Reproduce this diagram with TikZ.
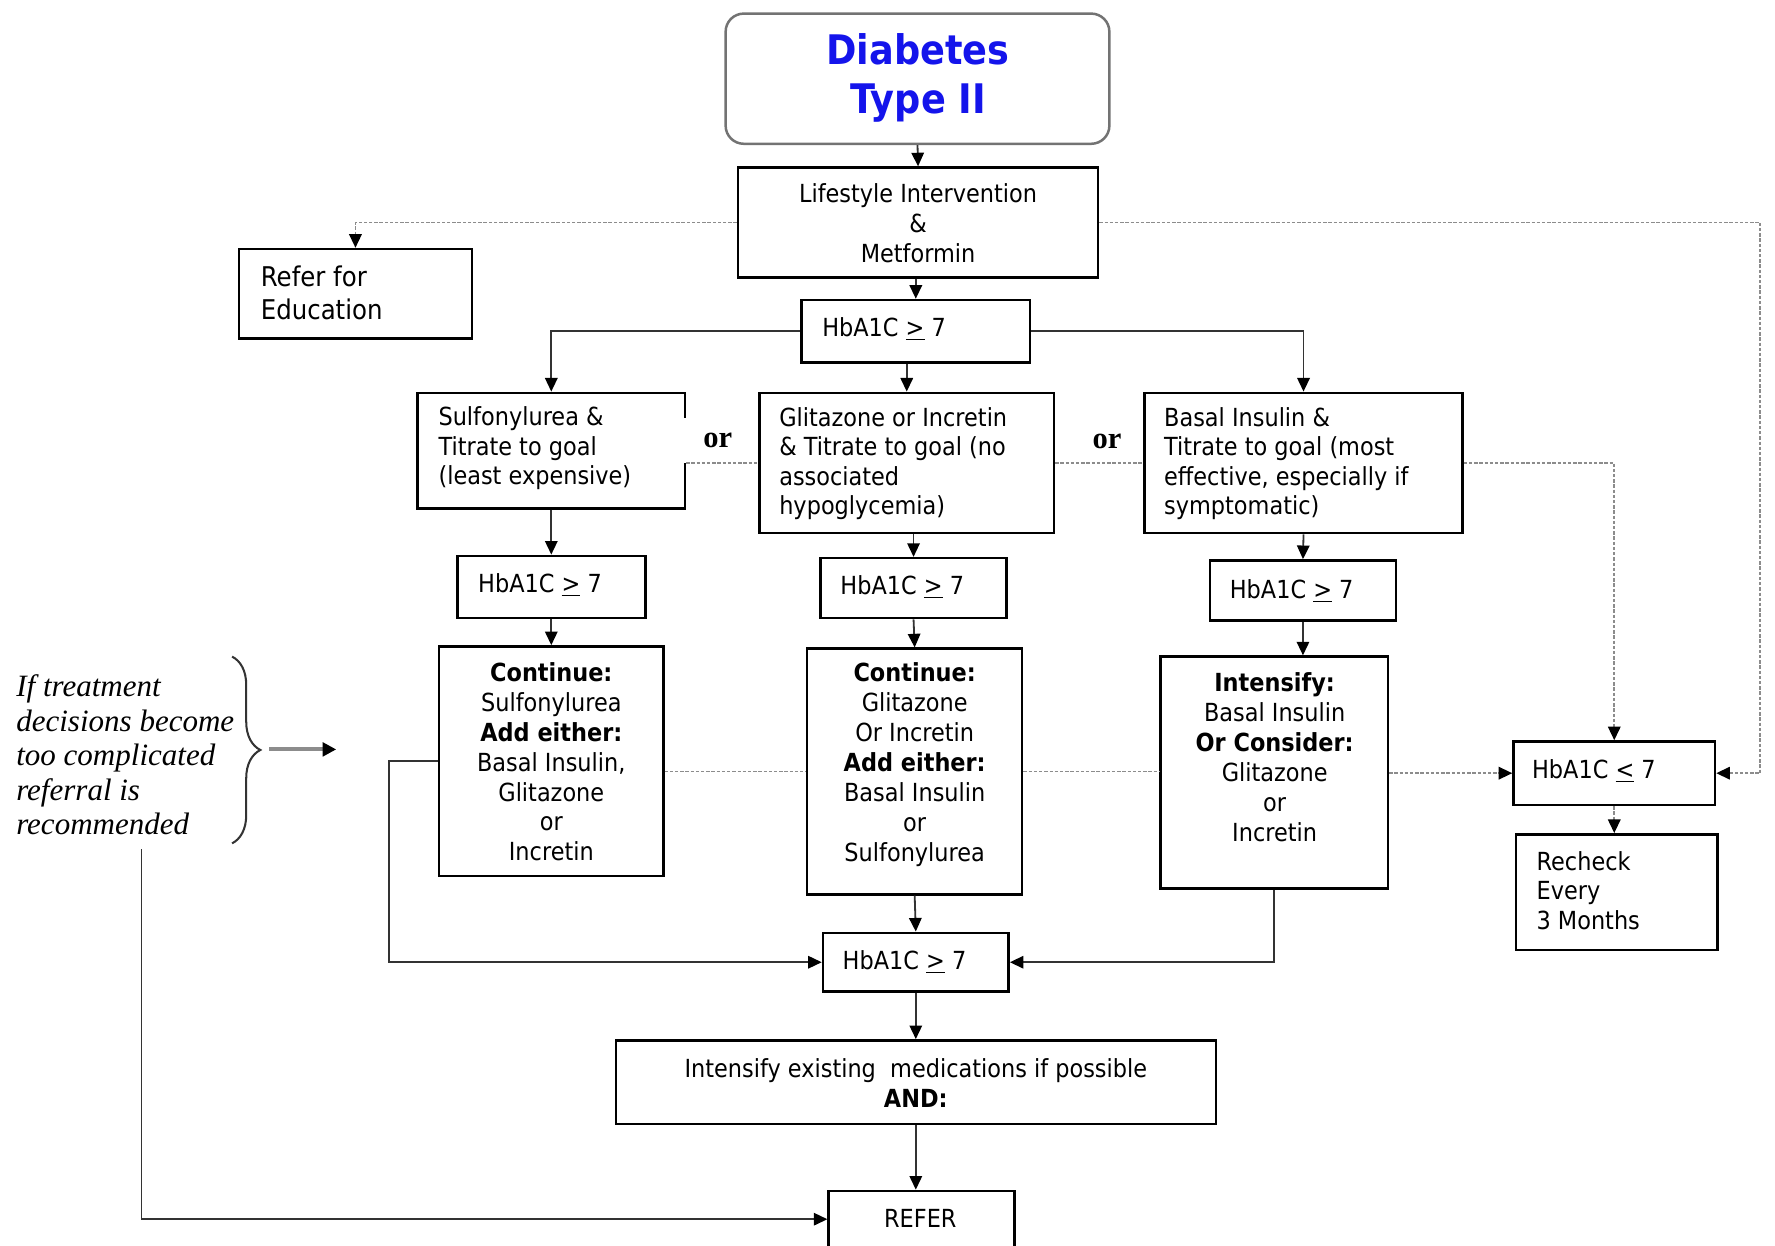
\documentclass[tikz,border=0pt]{standalone}
\usepackage{fontspec}
\setmainfont{DejaVu Sans}[FakeStretch=0.9]
\newfontfamily\timesfont{Liberation Serif}
\usetikzlibrary{arrows.meta,fit,decorations.pathreplacing}
\definecolor{titleblue}{RGB}{20,20,235}
\begin{document}
\begin{tikzpicture}[x=0.5pt,y=-0.5pt,
  box/.style={draw=black,line width=1.1pt,inner sep=0pt},
  txt/.style={inner sep=0pt,font=\fontsize{11}{13}\selectfont,align=left,anchor=west},
  ctxt/.style={inner sep=0pt,font=\fontsize{11}{13.2}\selectfont,align=center},
  conn/.style={draw=black!80,line width=0.8pt},
  arr/.style={conn,-{Triangle[length=6pt,width=5.5pt,color=black]}},
  dotl/.style={draw=black!45,line width=0.8pt,dash pattern=on 1.5pt off 0.8pt},
  darr/.style={dotl,-{Triangle[length=6pt,width=5.5pt,color=black]}},
  orlab/.style={inner sep=0pt,font=\timesfont\bfseries\fontsize{13.5}{15}\selectfont}]
\useasboundingbox (0,0) rectangle (1568,1100);
\clip (0,0) rectangle (1568,1100);
% boxes
\node[box,draw=black!55,line width=1.1pt,rounded corners=8pt,fit={(641,12) (980,127)}] (diab) {};
\node[box,fit={(652,148) (970,245)}] (life) {};
\node[box,fit={(708,265) (910,320)}] (h1) {};
\node[box,fit={(211,220) (417,299)}] (red) {};
\node[box,fit={(369,347) (605,449)}] (s1) {};
\node[box,fit={(671,347) (931,471)}] (g1) {};
\node[box,fit={(1011,347) (1292,471)}] (b1) {};
\node[box,fit={(404,491) (570,546)}] (s2) {};
\node[box,fit={(725,493) (889,546)}] (g2) {};
\node[box,fit={(1069,495) (1233,548)}] (b2) {};
\node[box,fit={(388,571) (586,774)}] (c1) {};
\node[box,fit={(713,573) (903,790)}] (c2) {};
\node[box,fit={(1025,580) (1226,785)}] (intf) {};
\node[box,fit={(1337,655) (1515,711)}] (lt) {};
\node[box,fit={(1339,737) (1517,839)}] (rck) {};
\node[box,fit={(727,824) (891,876)}] (h3) {};
\node[box,fit={(544,919) (1074,993)}] (ie) {};
\node[box,fit={(732,1052) (896,1102)}] (refer) {};
% texts
\node[ctxt,font=\bfseries\fontsize{18}{21.5}\selectfont,text=titleblue] (title) at (811,69) {Diabetes\\Type II};
\node[ctxt] (lifet) at (811,197) {Lifestyle Intervention\\\&\\Metformin};
\node[txt] (h1t) at (726,291) {HbA1C \underline{>} 7};
\node[txt,font=\fontsize{12}{14.5}\selectfont] (redt) at (230,258.5) {Refer for\\Education};
\node[txt] (s1t) at (387,396) {Sulfonylurea \&\\Titrate to goal\\(least expensive)};
\node[txt] (g1t) at (688,409.5) {Glitazone or Incretin\\\& Titrate to goal (no\\associated\\hypoglycemia)};
\node[txt] (b1t) at (1028,409.5) {Basal Insulin \&\\Titrate to goal (most\\effective, especially if\\symptomatic)};
\node[txt] (s2t) at (422,517) {HbA1C \underline{>} 7};
\node[txt] (g2t) at (742,519) {HbA1C \underline{>} 7};
\node[txt] (b2t) at (1086,522) {HbA1C \underline{>} 7};
\node[ctxt] (c1t) at (487,673) {\textbf{Continue:}\\Sulfonylurea\\\textbf{Add either:}\\Basal Insulin,\\Glitazone\\or\\Incretin};
\node[ctxt] (c2t) at (808,675.5) {\textbf{Continue:}\\Glitazone\\Or Incretin\\\textbf{Add either:}\\Basal Insulin\\or\\Sulfonylurea};
\node[ctxt] (intft) at (1126,669) {\textbf{Intensify:}\\Basal Insulin\\\textbf{Or Consider:}\\Glitazone\\or\\Incretin};
\node[txt] (h3t) at (744,850) {HbA1C \underline{>} 7};
\node[txt] (ltt) at (1353,681) {HbA1C \underline{<} 7};
\node[txt] (rckt) at (1357,786.5) {Recheck\\Every\\3 Months};
\node[ctxt] (iet) at (809,956.5) {Intensify existing\ \ medications if possible\\\textbf{AND:}};
\node[ctxt] (refert) at (813,1076) {REFER};
\node[inner sep=0pt,anchor=west,align=left,font=\timesfont\itshape\fontsize{13.7}{15.25}\selectfont] (note) at (14,667) {If treatment\\decisions become\\too complicated\\referral is\\recommended};
% or labels
\node[orlab,fill=white,minimum width=32pt,minimum height=20pt] (or1) at (634,389) {or};
\node[orlab] (or2) at (978,390) {or};
% brace
\coordinate (brt) at (205,580);
\coordinate (brb) at (205,745);
\draw[decorate,decoration={brace,amplitude=12.5pt},black!80,line width=0.9pt] (brt) -- (brb);
\coordinate (ba1) at (238,662);
\coordinate (ba2) at (297,662);
\draw[black!45,line width=1.8pt,-{Triangle[length=6pt,width=6pt,color=black]}] (ba1) -- (ba2);
% solid connectors
\draw[arr] (diab.south) -- (life.north);
\draw[arr] (h1.north |- life.south) -- (h1.north);
\draw[arr] (h1.west) -| (s1.north);
\draw[arr] (g1.north |- h1.south) -- (g1.north);
\draw[arr] (h1.east) -| (b1.north);
\draw[arr] (s1.south) -- (s2.north);
\draw[arr] (s2.south) -- (c1.north);
\draw[arr] (g2.north |- g1.south) -- (g2.north);
\draw[arr] (g2.south) -- (c2.north);
\draw[arr] (b1.south) -- (b2.north);
\draw[arr] (b2.south) -- (b2.south |- intf.north);
\draw[arr] (c2.south) -- (h3.north);
\draw[arr] (c1.west) -- ++(-43,0) |- (h3.west);
\draw[arr] (intf.south) |- (h3.east);
\draw[arr] (h3.south) -- (ie.north);
\draw[arr] (ie.south) -- (ie.south |- refer.north);
\coordinate (nb) at (125,750);
\draw[arr] (nb) |- (refer.west);
% dotted connectors
\draw[darr] (life.west) -| (red.north);
\coordinate (rtc) at (1555,197);
\draw[darr] (life.east) -- (life.east -| rtc) |- (lt.east);
\draw[dotl] (g1.west -| s1.east) -- (g1.west);
\draw[dotl] (g1.east) -- (b1.west);
\draw[darr] (b1.east) -| (lt.north);
\draw[darr] (lt.south) -- (lt.south |- rck.north);
\draw[dotl] (c2.west -| c1.east) -- (c2.west);
\draw[dotl] (c2.east) -- (intf.west |- c2.east);
\draw[darr] (lt.west -| intf.east) -- (lt.west);
\end{tikzpicture}
\end{document}
